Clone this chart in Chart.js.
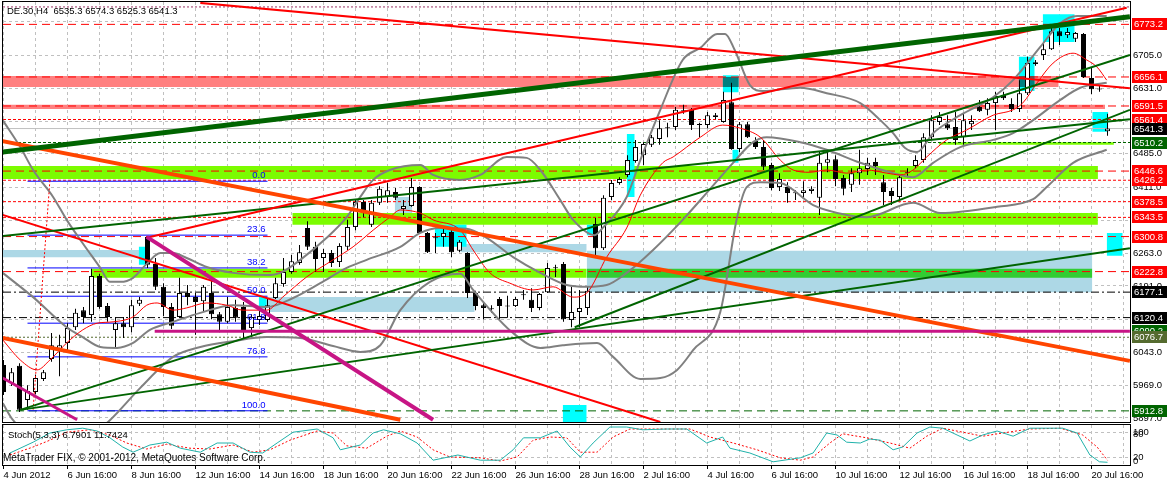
<!DOCTYPE html>
<html>
<head>
<meta charset="utf-8">
<script src="https://cdn.jsdelivr.net/npm/chart.js@4/dist/chart.umd.min.js"></script>
<style>
  html, body { margin: 0; padding: 0; background: #fff; }
  #wrap { position: relative; width: 1167px; height: 483px; overflow: hidden; background: #fff; }
  #main { position: absolute; left: 0; top: 0; }
  #stoch { position: absolute; left: 0; top: 424px; }
</style>
</head>
<body>
<div id="wrap">
  <canvas id="main" width="1167" height="424"></canvas>
  <canvas id="stoch" width="1167" height="59"></canvas>
</div>
<script>
const FONT = "'Liberation Sans', Arial, sans-serif"

// DE.30 H4 candles, 4 Jun - 20 Jul 2012
const opens = [6015,5975,6013,5937,5955,5984,6028,6051,6064,6099,6137,6126,6213,6146,6093,6108,6099,6151,6300,6240,
  6189,6144,6122,6175,6166,6157,6175,6128,6111,6142,6144,6097,6115,6115,6164,6195,6222,6242,6320,6278,
  6253,6264,6244,6278,6322,6378,6327,6376,6389,6400,6362,6369,6411,6309,6297,6300,6311,6269,6264,6175,
  6148,6140,6162,6146,6146,6171,6160,6142,6177,6231,6240,6115,6133,6142,6329,6275,6389,6420,6438,6469,
  6482,6505,6518,6542,6545,6580,6583,6549,6549,6571,6556,6600,6496,6551,6514,6500,6460,6411,6411,6398,
  6398,6402,6387,6465,6473,6431,6416,6442,6451,6467,6422,6402,6389,6444,6458,6471,6522,6556,6551,6545,
  6522,6551,6589,6583,6598,6616,6596,6585,6620,6685,6705,6718,6758,6749,6741,6752,6654,6629,6535.3]
const highs = [6026,6008,6019,5970,5993,6004,6086,6082,6108,6140,6144,6229,6218,6153,6122,6122,6160,6166,6302,6253,
  6197,6153,6209,6193,6175,6193,6211,6133,6166,6160,6155,6128,6137,6164,6209,6253,6260,6282,6335,6289,
  6273,6271,6286,6338,6382,6382,6382,6413,6420,6409,6382,6431,6413,6311,6309,6322,6322,6293,6266,6180,
  6153,6148,6166,6169,6166,6182,6186,6175,6242,6238,6244,6189,6182,6189,6342,6393,6427,6433,6482,6516,
  6511,6527,6560,6554,6589,6594,6587,6554,6578,6576,6623,6643,6556,6556,6522,6516,6465,6442,6422,6404,
  6424,6413,6489,6494,6482,6438,6453,6494,6476,6476,6438,6409,6438,6453,6482,6531,6571,6578,6571,6578,
  6576,6571,6605,6609,6623,6623,6609,6649,6701,6694,6732,6765,6765,6765,6756,6754,6676,6636,6574.3]
const lows = [5948,5968,5910,5915,5950,5979,6022,5990,6042,6093,6108,6111,6140,6111,6055,6075,6088,6146,6231,6182,
  6124,6095,6120,6148,6082,6133,6117,6088,6108,6111,6075,6077,6104,6111,6162,6189,6218,6238,6271,6222,
  6222,6233,6233,6271,6315,6344,6322,6371,6376,6382,6349,6367,6307,6264,6264,6278,6255,6266,6164,6137,
  6117,6131,6115,6120,6144,6160,6133,6137,6175,6211,6111,6099,6099,6126,6260,6271,6382,6416,6433,6465,
  6460,6500,6505,6522,6538,6574,6538,6522,6542,6562,6554,6494,6489,6520,6496,6449,6404,6402,6376,6382,
  6387,6396,6349,6444,6413,6393,6400,6416,6438,6438,6371,6371,6382,6433,6453,6465,6516,6549,6538,6505,
  6505,6538,6578,6571,6538,6605,6578,6578,6616,6681,6694,6716,6727,6743,6734,6654,6618,6623,6525.3]
const closes = [5955,5999,5915,5957,5986,5999,6059,6059,6097,6131,6122,6213,6144,6122,6108,6099,6148,6160,6238,6189,
  6144,6102,6175,6166,6155,6189,6128,6111,6144,6120,6088,6122,6124,6148,6197,6222,6246,6266,6278,6251,
  6264,6242,6280,6322,6378,6353,6376,6407,6404,6387,6369,6411,6309,6266,6299,6309,6266,6289,6175,6146,
  6142,6139,6146,6145,6162,6170,6142,6173,6231,6230,6117,6133,6142,6180,6275,6387,6420,6429,6471,6500,
  6507,6522,6542,6543,6583,6581,6549,6550,6571,6567,6605,6496,6551,6522,6500,6456,6409,6429,6398,6397,
  6404,6407,6465,6473,6429,6407,6442,6453,6465,6458,6400,6391,6433,6443,6471,6522,6560,6567,6542,6516,
  6560,6558,6580,6598,6614,6609,6585,6620,6687,6689,6718,6758,6747,6756,6754,6656,6629,6628,6541.3]

// one label every 8 bars
const dateLabels = ['4 Jun 2012','6 Jun 16:00','8 Jun 16:00','12 Jun 16:00','14 Jun 16:00','18 Jun 16:00',
  '20 Jun 16:00','22 Jun 16:00','26 Jun 16:00','28 Jun 16:00','2 Jul 16:00','4 Jul 16:00','6 Jul 16:00',
  '10 Jul 16:00','12 Jul 16:00','16 Jul 16:00','18 Jul 16:00','20 Jul 16:00']
const priceTicks = [6779,6705,6631,6557,6485,6411,6337,6263,6191,6117,6043,5969,5897]
const coveredTicks = [6779,6557,6337,6117]

// Bollinger bands and moving average as [bar, price]
const bbUpper = [[-0.1,6560],[2.1,6500],[3.7,6449],[6.2,6389],[7.9,6338],[9.9,6286],[12.1,6231],[13.3,6200],[14.6,6200],
  [16.2,6209],[17.9,6240],[19.6,6264],[21.2,6264],[22.9,6253],[25.4,6233],[28.7,6220],[32.9,6215],[34.6,6220],[37.1,6249],
  [40.4,6298],[42.9,6344],[44.6,6389],[46.2,6427],[48.3,6449],[52.1,6460],[53.7,6438],[57.1,6427],[59.6,6438],[62.9,6478],
  [65.4,6476],[67.1,6449],[69.6,6382],[71.2,6338],[73.9,6304],[74.9,6320],[77.9,6389],[79.6,6471],[82.1,6583],[84.9,6694],
  [87.1,6721],[89.2,6752],[90.2,6752],[91.4,6716],[93.3,6638],[94.9,6625],[99.6,6632],[102.9,6620],[107.1,6598],[109.6,6560],
  [111.2,6531],[112.7,6498],[114.2,6489],[116.2,6531],[119.6,6571],[123.7,6611],[126.2,6649],[129.6,6723],[132.1,6776],
  [134.2,6792],[137.9,6792]]
const bbMiddle = [[-0.1,6220],[3.7,6166],[7.9,6099],[9.9,6077],[12.1,6055],[14.2,6053],[16.2,6064],[18.3,6093],[21.2,6111],
  [24.6,6131],[28.7,6148],[32.9,6144],[36.2,6164],[39.6,6197],[42.9,6231],[45.4,6249],[49.6,6278],[52.1,6309],[54.6,6320],
  [57.9,6318],[60.4,6298],[63.7,6255],[67.1,6220],[70.4,6193],[72.9,6189],[75.4,6193],[77.9,6220],[81.2,6271],[84.9,6338],
  [87.9,6398],[91.2,6465],[93.7,6511],[95.4,6522],[99.6,6511],[102.9,6494],[107.1,6465],[111.2,6442],[113.7,6433],
  [116.2,6465],[119.6,6500],[123.7,6516],[126.2,6531],[128.7,6560],[132.1,6605],[134.6,6632],[137.9,6643]]
const bbLower = [[-0.1,5930],[1.2,5892],[3.3,5862],[6.2,5858],[9.9,5866],[12.1,5875],[13.3,5892],[17.1,5964],[21.2,6033],
  [24.6,6055],[28.7,6068],[32.9,6077],[37.1,6075],[41.2,6057],[44.6,6044],[47.1,6059],[49.6,6137],[53.3,6200],[57.1,6218],
  [58.7,6182],[63.7,6086],[67.1,6053],[69.9,6059],[74.2,6064],[76.2,6033],[79.6,5984],[82.1,5986],[84.2,6004],[86.2,6048],
  [89.6,6133],[91.7,6344],[92.9,6411],[94.6,6422],[97.1,6420],[101.2,6371],[105.4,6349],[107.9,6344],[113.7,6376],
  [117.1,6353],[124.2,6367],[128.7,6384],[130.4,6411],[133.7,6465],[137.9,6494]]
const maLine = [[-0.1,6071],[2.1,6026],[4.2,6004],[5.8,6026],[7.9,6064],[9.9,6093],[11.7,6108],[13.7,6111],[16.2,6122],
  [17.9,6148],[19.2,6153],[21.2,6137],[22.9,6142],[25.4,6153],[27.9,6148],[29.9,6137],[32.9,6137],[34.9,6166],[37.9,6211],
  [41.2,6249],[43.7,6278],[46.2,6315],[48.3,6344],[49.6,6360],[52.1,6353],[53.7,6338],[57.1,6315],[58.7,6271],[60.8,6220],
  [63.3,6197],[66.2,6182],[68.7,6189],[71.2,6166],[72.9,6175],[75.4,6255],[77.9,6320],[79.6,6393],[82.4,6465],[83.7,6478],
  [87.1,6522],[89.9,6549],[92.1,6542],[94.6,6522],[97.1,6471],[98.7,6449],[100.8,6444],[102.9,6449],[105.4,6442],
  [107.9,6449],[110.4,6442],[112.1,6438],[113.7,6449],[115.4,6478],[117.9,6516],[120.4,6538],[123.7,6571],[126.2,6583],
  [127.4,6598],[129.2,6643],[131.2,6687],[133.7,6709],[135.4,6694],[136.7,6678],[137.9,6649]]

// Stochastic (5,3,3) as [bar, value]
const stochMain = [[0.8,30],[3.7,57],[5.8,80],[7.9,88],[9.9,92],[11.7,85],[13.3,68],[14.9,45],[16.2,32],[18.3,50],[20.4,57],
  [22.1,42],[24.6,32],[26.7,55],[28.7,55],[30.8,32],[32.4,30],[34.2,55],[36.2,82],[39.2,90],[41.2,68],[42.1,38],[44.6,50],
  [46.2,80],[47.5,88],[49.6,78],[51.7,55],[53.7,12],[56.8,25],[59.6,12],[62.1,12],[63.7,38],[65,68],[67.1,68],[69.2,85],
  [70.8,45],[72.1,20],[73.7,55],[75.8,95],[77.9,95],[79.9,88],[82.9,90],[85.4,90],[87.9,55],[89.9,70],[90.8,42],[93.3,30],
  [96.2,8],[99.6,18],[101.2,30],[102.9,80],[104.2,75],[105.4,57],[107.1,55],[108.3,65],[109.6,62],[111.2,38],[112.4,45],
  [114.2,80],[115.8,95],[117.4,92],[119.2,75],[120.8,60],[122.4,75],[124.2,85],[126.2,72],[128.3,92],[132.4,92],[134.2,80],
  [135.8,25],[137,8],[138,6.7901]]
const stochSignal = [[0.8,25],[3.7,45],[5.8,62],[7.9,82],[10.8,88],[13.3,75],[15.4,55],[17.9,40],[20.4,52],[23.3,42],
  [25.8,40],[28.7,50],[31.2,32],[33.3,38],[35.8,62],[39.2,85],[41.2,80],[42.9,48],[45.4,42],[47.9,72],[49.6,85],[51.7,70],
  [53.7,38],[55.8,20],[59.6,18],[62.1,10],[64.2,20],[66.2,62],[68.3,70],[70.4,68],[72.1,32],[74.2,32],[76.2,70],[78.3,90],
  [82.9,90],[85.8,90],[88.3,70],[91.2,55],[94.2,38],[97.1,18],[99.6,12],[101.2,20],[103.3,55],[104.9,78],[107.9,68],
  [110.8,55],[113.3,42],[115.4,72],[117.4,92],[119.9,82],[122.4,72],[124.9,80],[128.3,90],[132.1,92],[134.9,75],
  [136.7,45],[138,11.7424]]

// horizontal levels and price tags
const levels = [6812,6773.2,6656.1,6591.5,6561.4,6541.3,6510.2,6446.6,6426.2,6378.5,6343.5,6300.8,6222.8,6177.1,6120.4,6076.7,5912.8]
const priceTags = [6773.2,6656.1,6591.5,6561.4,6541.3,6510.2,6446.6,6426.2,6378.5,6343.5,6300.8,6222.8,6177.1,6120.4,6090.2,6076.7,5912.8]

// zones: [fromBar, toBar, top, bottom]
const zones = [
  [72.9,136.1,6269,6177],[-0.1,17.1,6271,6255],[57.1,72.9,6284,6266],[32.1,58.9,6166,6133],[48.9,51.1,6389,6331],
  [-0.1,131.9,6658,6634],[-0.1,137.7,6594,6585],[-0.1,136.8,6458,6429],[36.1,136.8,6353,6327],
  [10.9,72.9,6229,6209],[72.9,136.1,6229,6209],[116.9,138.8,6511,6505],
  [16.9,17.9,6278,6238],[53.9,57.9,6327,6278],[72.9,73.9,6327,6304],[77.9,78.9,6529,6389],[89.9,91.9,6660,6622],
  [91.1,91.9,6494,6465],[126.9,128.9,6701,6625],[129.9,133.9,6796,6734],[136.1,138.1,6578,6534],[137.9,139.9,6309,6258],
  [69.9,72.9,5926,5888],[31.9,32.9,6166,6142],[89.9,91.9,6656,6634],[126.9,128.9,6658,6634]]

// trend lines: [[bar, price], [bar, price]]
const trend = {
  fibTrend: [[5.8,6426],[3.7,5915]],
  redLow: [[-0.1,6349],[82.1,5888]],
  greenA: [[-0.1,6302],[140.8,6562]],
  greenB: [[2.1,5915],[140.8,6275]],
  greenC: [[2.1,5915],[140.8,6705]],
  greenD: [[71.4,6099],[140.8,6583]],
  redFall: [[24.6,6821],[140.8,6631]],
  redRise: [[17.9,6298],[140.4,6810]],
  orangeHigh: [[-0.1,6513],[140.8,6024]],
  orangeLow: [[-0.1,6075],[49.6,5893]],
  magentaA: [[17.9,6300],[53.7,5893]],
  magentaB: [[-0.1,5986],[9.2,5893]],
  magentaFlat: [[18.9,6090.2],[140.8,6090.2]],
  thickGreen: [[-0.1,6489],[140.8,6790]]
}

const fibNames = ['0.0','23.6','38.2','50.0','61.8','76.8','100.0']
const fibPrices = [6424,6304,6231,6168,6108,6033,5913]
const fibSpan = [3, 33]

// ---- styles ----
const RED = '#ff0000', DKGREEN = '#006400'
const levelStyle = [
  ['#993366',[2,2]],[RED,[8,5]],[RED,[8,5]],[RED,[8,5]],[RED,[3,2]],['#c0c0c0',[]],[DKGREEN,[3,2]],
  [RED,[8,5]],[RED,[3,2]],[RED,[3,2]],[RED,[3,2]],[RED,[8,5]],[RED,[8,5]],['#000',[8,3,2,3]],['#000',[8,3,2,3]],
  ['#556b2f',[2,2]],[DKGREEN,[8,5]]]
const tagColors = [RED,RED,RED,RED,'#000',DKGREEN,RED,RED,RED,RED,RED,RED,'#000','#000',DKGREEN,'#556b2f',DKGREEN]
const zoneColors = ['#add8e6','#add8e6','#add8e6','#add8e6','#add8e6','#ff8080','#ff8080','#7cfc00','#7cfc00',
  '#7cfc00','#32cd32','#7cfc00','#00ffff','#00ffff','#00ffff','#00ffff','#00ffff','#00ffff','#00ffff','#00ffff',
  '#00ffff','#00ffff','#00ffff','#00ffff','#008080','#008080']
const trendStyle = {
  fibTrend: [RED,1,[2,2]], redLow: [RED,2], greenA: [DKGREEN,2], greenB: [DKGREEN,2], greenC: [DKGREEN,2],
  greenD: [DKGREEN,2], redFall: [RED,2], redRise: [RED,2], orangeHigh: ['#ff4500',4], orangeLow: ['#ff4500',4],
  magentaA: ['#c71585',4], magentaB: ['#c71585',3], magentaFlat: ['#c71585',3], thickGreen: [DKGREEN,5]
}

const X_MIN = -0.0625
const X_MAX = X_MIN + 1127 / 8
const gridBars = []
for (let i = 0; i <= 140; i += 4) gridBars.push(i)
const pts = arr => arr.map(p => ({ x: p[0], y: p[1] }))

// ---- main chart datasets ----
const datasets = []

zones.forEach((z, k) => {
  datasets.push({
    type: 'line', order: 200 - k,
    data: [{ x: z[0], y: z[2] }, { x: z[1], y: z[2] }],
    borderColor: 'rgba(0,0,0,0)', borderWidth: 0, pointRadius: 0,
    backgroundColor: zoneColors[k], fill: { value: z[3] }
  })
})

levels.forEach((v, k) => {
  datasets.push({
    type: 'line', order: 60,
    data: [{ x: X_MIN, y: v }, { x: X_MAX, y: v }],
    borderColor: levelStyle[k][0], borderDash: levelStyle[k][1], borderWidth: 1, pointRadius: 0, fill: false
  })
})

fibPrices.forEach(v => {
  datasets.push({
    type: 'line', order: 55,
    data: [{ x: fibSpan[0], y: v }, { x: fibSpan[1], y: v }],
    borderColor: '#0000ff', borderWidth: 1, pointRadius: 0, fill: false
  })
})

const bullish = i => closes[i] > opens[i] + 1
datasets.push({
  type: 'bar', order: 31, grouped: false, barThickness: 1, inflateAmount: 0,
  data: opens.map((o, i) => ({ x: i, y: [lows[i], highs[i]] })),
  backgroundColor: '#000', borderWidth: 0
})
datasets.push({
  type: 'bar', order: 30, grouped: false, barThickness: 5, inflateAmount: 0, minBarLength: 1,
  data: opens.map((o, i) => ({ x: i, y: [Math.min(o, closes[i]), Math.max(o, closes[i])] })),
  backgroundColor: ctx => bullish(ctx.dataIndex) ? '#fff' : '#000',
  borderColor: '#000', borderWidth: 1, borderSkipped: false
})

;[bbUpper, bbMiddle, bbLower].forEach(b => {
  datasets.push({
    type: 'line', order: 20, data: pts(b), borderColor: '#808080', borderWidth: 2,
    pointRadius: 0, fill: false, cubicInterpolationMode: 'monotone'
  })
})
datasets.push({
  type: 'line', order: 19, data: pts(maLine), borderColor: RED, borderWidth: 1,
  pointRadius: 0, fill: false, cubicInterpolationMode: 'monotone'
})

Object.keys(trend).forEach((name, k) => {
  const st = trendStyle[name]
  datasets.push({
    type: 'line', order: 15 - k * 0.1, data: pts(trend[name]),
    borderColor: st[0], borderWidth: st[1], borderDash: st[2] || [], pointRadius: 0, fill: false
  })
})

const mainDecor = {
  id: 'mainDecor',
  afterDraw(chart) {
    const { ctx, chartArea: a, scales: { x, y } } = chart
    ctx.save()
    ctx.strokeStyle = '#000'
    ctx.lineWidth = 1
    ctx.strokeRect(a.left - 0.5, a.top - 0.5, a.right - a.left + 1, a.bottom - a.top + 1)

    ctx.font = '9.5px ' + FONT
    ctx.textBaseline = 'middle'
    ctx.fillStyle = '#000'
    const n = opens.length - 1
    ctx.fillText('DE.30,H4  ' + [opens[n], highs[n], lows[n], closes[n]].map(v => v.toFixed(1)).join(' '), 7, 11)

    ctx.fillStyle = '#0000ff'
    ctx.textAlign = 'right'
    ctx.textBaseline = 'bottom'
    fibPrices.forEach((v, k) => {
      ctx.fillText(fibNames[k], x.getPixelForValue(fibSpan[1]) - 2, y.getPixelForValue(v) - 1)
    })

    ctx.textAlign = 'left'
    ctx.textBaseline = 'middle'
    priceTags.forEach((v, k) => {
      const py = Math.round(y.getPixelForValue(v))
      ctx.fillStyle = tagColors[k]
      ctx.fillRect(a.right + 2, py - 6, 36, 12)
      ctx.fillStyle = '#fff'
      ctx.fillText(v.toFixed(1), a.right + 4, py + 0.5)
    })
    ctx.restore()
  }
}

new Chart(document.getElementById('main'), {
  type: 'bar',
  data: { datasets },
  options: {
    responsive: false, animation: false, events: [],
    layout: { padding: { left: 3, right: 0, top: 2, bottom: 2 } },
    plugins: { legend: { display: false }, tooltip: { enabled: false } },
    scales: {
      x: {
        type: 'linear', min: X_MIN, max: X_MAX, offset: false,
        grid: { color: '#c0c0c0', drawTicks: false, offset: false },
        border: { display: false, dash: [3, 3] },
        ticks: { display: false },
        afterBuildTicks: s => { s.ticks = gridBars.map(v => ({ value: v })) },
        afterFit: s => { s.height = 0; s.paddingLeft = 0; s.paddingRight = 0 }
      },
      y: {
        type: 'linear', position: 'right', min: 5888, max: 6823,
        grid: { color: '#c0c0c0', drawTicks: false },
        border: { display: false, dash: [3, 3] },
        ticks: {
          color: '#000', padding: 3, autoSkip: false, font: { family: FONT, size: 9.5 },
          callback: v => coveredTicks.includes(v) ? '' : v.toFixed(1)
        },
        afterBuildTicks: s => { s.ticks = priceTicks.map(v => ({ value: v })) },
        afterFit: s => { s.width = 37; s.paddingTop = 0; s.paddingBottom = 0 }
      }
    }
  },
  plugins: [mainDecor]
})

// ---- stochastic panel ----
const stochDecor = {
  id: 'stochDecor',
  afterDraw(chart) {
    const { ctx, chartArea: a } = chart
    ctx.save()
    ctx.strokeStyle = '#000'
    ctx.lineWidth = 1
    ctx.strokeRect(a.left - 0.5, a.top - 0.5, a.right - a.left + 1, a.bottom - a.top + 1)
    ctx.font = '9.5px ' + FONT
    ctx.fillStyle = '#000'
    ctx.textBaseline = 'middle'
    const m = stochMain[stochMain.length - 1][1], s = stochSignal[stochSignal.length - 1][1]
    ctx.fillText('Stoch(5,3,3) ' + m.toFixed(4) + ' ' + s.toFixed(4), 8, 11)
    ctx.font = '10px ' + FONT
    ctx.fillText('MetaTrader FIX, \u00a9 2001-2012, MetaQuotes Software Corp.', 3, 34)
    ctx.font = '9.5px ' + FONT
    ctx.fillText('100', a.right + 3, 8)
    ctx.fillText('80', a.right + 3, 10)
    ctx.fillText('20', a.right + 3, 33)
    ctx.fillText('0', a.right + 3, 37)
    ctx.restore()
  }
}

new Chart(document.getElementById('stoch'), {
  type: 'line',
  data: {
    datasets: [
      { data: pts(stochMain), borderColor: '#20b2aa', borderWidth: 1, pointRadius: 0, fill: false },
      { data: pts(stochSignal), borderColor: RED, borderWidth: 1, borderDash: [2, 2], pointRadius: 0, fill: false }
    ]
  },
  options: {
    responsive: false, animation: false, events: [],
    layout: { padding: { left: 3, right: 0, top: 1, bottom: 0 } },
    plugins: { legend: { display: false }, tooltip: { enabled: false } },
    scales: {
      x: {
        type: 'linear', min: X_MIN, max: X_MAX, offset: false,
        grid: {
          color: '#c0c0c0', drawTicks: true, tickLength: 4,
          tickColor: ctx => (ctx.tick && ctx.tick.value % 8 === 0) ? '#000' : 'rgba(0,0,0,0)'
        },
        border: { display: false, dash: [3, 3] },
        ticks: {
          color: '#000', autoSkip: false, maxRotation: 0, align: 'start', padding: 1,
          font: { family: FONT, size: 9.5 },
          callback: v => v % 8 === 0 ? dateLabels[v / 8] : ''
        },
        afterBuildTicks: s => { s.ticks = gridBars.map(v => ({ value: v })) },
        afterFit: s => { s.height = 18; s.paddingLeft = 0; s.paddingRight = 0 }
      },
      y: {
        type: 'linear', position: 'right', min: 0, max: 100,
        grid: { color: '#c0c0c0', drawTicks: false },
        border: { display: false, dash: [3, 3] },
        ticks: { display: false },
        afterBuildTicks: s => { s.ticks = [{ value: 20 }, { value: 80 }] },
        afterFit: s => { s.width = 37 }
      }
    }
  },
  plugins: [stochDecor]
})
</script>
</body>
</html>
